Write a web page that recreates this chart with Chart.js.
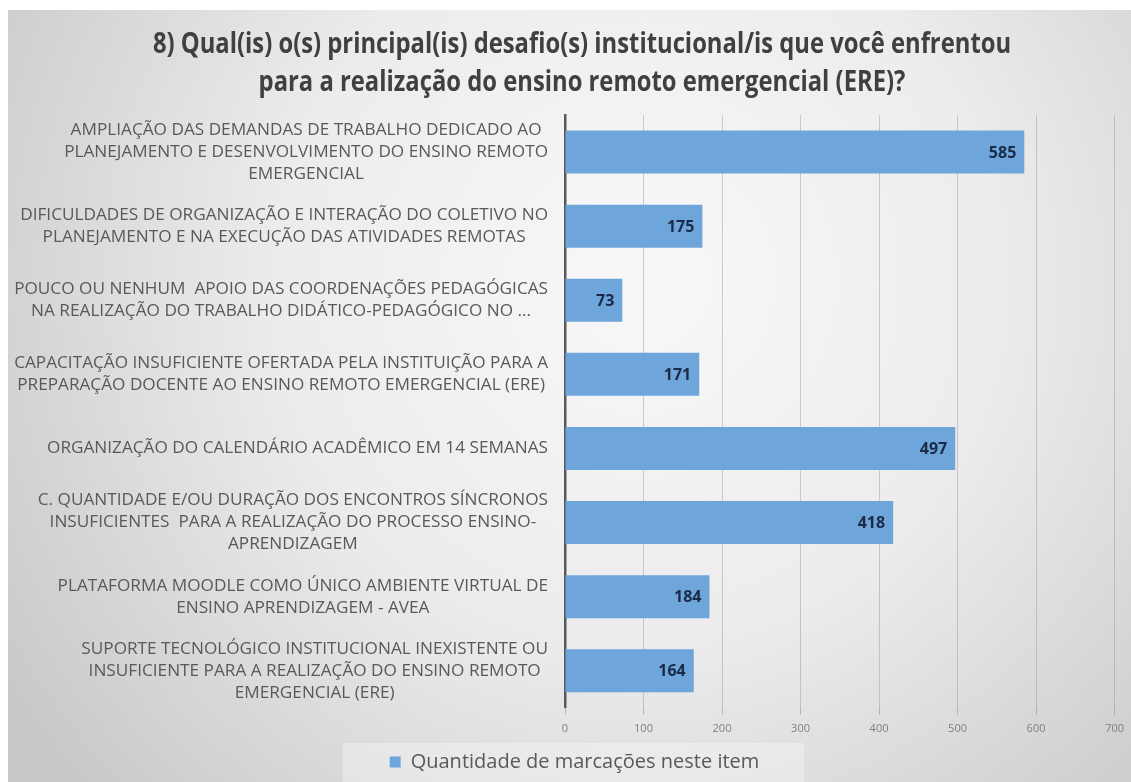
<!DOCTYPE html>
<html>
<head>
<meta charset="utf-8">
<script src="https://cdn.jsdelivr.net/npm/chart.js@4/dist/chart.umd.min.js"></script>
<style>
    html, body { margin: 0; padding: 0; background: #ffffff; }
    #wrap { width: 1131px; height: 782px; }
</style>
</head>
<body>
<div id="wrap"><canvas id="chart"></canvas></div>
<script>
const titleLines = [
    "8) Qual(is) o(s) principal(is) desafio(s) institucional/is que você enfrentou",
    "para a realização do ensino remoto emergencial (ERE)?"
];

const categories = [
    ["AMPLIAÇÃO DAS DEMANDAS DE TRABALHO DEDICADO AO", "PLANEJAMENTO E DESENVOLVIMENTO DO ENSINO REMOTO", "EMERGENCIAL"],
    ["DIFICULDADES DE ORGANIZAÇÃO E INTERAÇÃO DO COLETIVO NO", "PLANEJAMENTO E NA EXECUÇÃO DAS ATIVIDADES REMOTAS"],
    ["POUCO OU NENHUM  APOIO DAS COORDENAÇÕES PEDAGÓGICAS", "NA REALIZAÇÃO DO TRABALHO DIDÁTICO-PEDAGÓGICO NO ..."],
    ["CAPACITAÇÃO INSUFICIENTE OFERTADA PELA INSTITUIÇÃO PARA A", "PREPARAÇÃO DOCENTE AO ENSINO REMOTO EMERGENCIAL (ERE)"],
    ["ORGANIZAÇÃO DO CALENDÁRIO ACADÊMICO EM 14 SEMANAS"],
    ["C. QUANTIDADE E/OU DURAÇÃO DOS ENCONTROS SÍNCRONOS", "INSUFICIENTES  PARA A REALIZAÇÃO DO PROCESSO ENSINO-", "APRENDIZAGEM"],
    ["PLATAFORMA MOODLE COMO ÚNICO AMBIENTE VIRTUAL DE", "ENSINO APRENDIZAGEM - AVEA"],
    ["SUPORTE TECNOLÓGICO INSTITUCIONAL INEXISTENTE OU", "INSUFICIENTE PARA A REALIZAÇÃO DO ENSINO REMOTO", "EMERGENCIAL (ERE)"]
];

const seriesName = "Quantidade de marcações neste item";
const counts = [585, 175, 73, 171, 497, 418, 184, 164];

const xMin = 0;
const xMax = 700;
const xStep = 100;

const labelFont = "17.2px 'Open Sans', sans-serif";

// gray panel with a soft radial light, like the slide background
const backgroundPlugin = {
    id: "panelBackground",
    beforeDraw(chart) {
        const ctx = chart.ctx;
        const w = chart.width;
        const h = chart.height;
        ctx.save();
        ctx.fillStyle = "#ffffff";
        ctx.fillRect(0, 0, w, h);
        const g = ctx.createRadialGradient(640, 280, 40, 640, 280, 760);
        g.addColorStop(0, "#f7f7f7");
        g.addColorStop(0.45, "#ececec");
        g.addColorStop(1, "#c8c8c8");
        ctx.fillStyle = g;
        ctx.fillRect(8, 10, w - 8, h - 10);

        const legend = chart.legend;
        if (legend && legend.legendHitBoxes && legend.legendHitBoxes.length) {
            const hb = legend.legendHitBoxes[0];
            ctx.fillStyle = "rgba(255,255,255,0.32)";
            ctx.fillRect(hb.left - 47, hb.top - 9, hb.width + 92, h - hb.top + 9);
        }
        ctx.restore();
    }
};

// title in a condensed bold face (horizontally squeezed)
const titlePlugin = {
    id: "condensedTitle",
    afterDraw(chart) {
        const ctx = chart.ctx;
        const cx = 582;
        const squeeze = 0.85;
        ctx.save();
        ctx.font = "bold 28px 'Open Sans', sans-serif";
        ctx.fillStyle = "#404040";
        ctx.textAlign = "center";
        ctx.textBaseline = "middle";
        ctx.translate(cx, 0);
        ctx.scale(squeeze, 1);
        ctx.fillText(titleLines[0], 0, 45);
        ctx.fillText(titleLines[1], 0, 83);
        ctx.restore();
    }
};

// category labels: block right aligned, lines centred inside the block
const categoryLabelPlugin = {
    id: "categoryLabels",
    afterDraw(chart) {
        const scale = chart.scales.y;
        const ctx = chart.ctx;
        const right = scale.right - 17;
        const lineH = 22;
        ctx.save();
        ctx.font = labelFont;
        ctx.fillStyle = "#595959";
        ctx.textAlign = "center";
        ctx.textBaseline = "middle";
        categories.forEach((lines, i) => {
            const y = scale.getPixelForTick(i);
            const widest = Math.max(...lines.map((l) => ctx.measureText(l).width));
            const cx = right - widest / 2;
            const top = y - ((lines.length - 1) * lineH) / 2;
            lines.forEach((line, k) => {
                ctx.fillText(line, cx, top + k * lineH);
            });
        });
        ctx.restore();
    }
};

// value labels inside the end of each bar
const valueLabelPlugin = {
    id: "valueLabels",
    afterDatasetsDraw(chart) {
        const ctx = chart.ctx;
        const meta = chart.getDatasetMeta(0);
        ctx.save();
        ctx.font = "bold 16px 'Open Sans', sans-serif";
        ctx.fillStyle = "#1b2a48";
        ctx.textAlign = "right";
        ctx.textBaseline = "middle";
        meta.data.forEach((bar, i) => {
            ctx.fillText(String(counts[i]), bar.x - 8, bar.y + 1);
        });
        ctx.restore();
    }
};

function buildChart() {
    const canvas = document.getElementById("chart");
    return new Chart(canvas, {
        type: "bar",
        data: {
            labels: categories,
            datasets: [{
                label: seriesName,
                data: counts,
                backgroundColor: "#6ea5da",
                borderWidth: 0,
                barPercentage: 0.58,
                categoryPercentage: 1
            }]
        },
        options: {
            indexAxis: "y",
            responsive: true,
            maintainAspectRatio: false,
            animation: false,
            layout: { padding: { left: 32, right: 14, top: 115, bottom: 0 } },
            plugins: {
                title: { display: false },
                legend: {
                    position: "bottom",
                    labels: {
                        color: "#595959",
                        boxWidth: 11,
                        boxHeight: 11,
                        padding: 10,
                        font: { family: "'Open Sans', sans-serif", size: 20 }
                    }
                },
                tooltip: { enabled: false }
            },
            scales: {
                x: {
                    min: xMin,
                    max: xMax,
                    ticks: {
                        stepSize: xStep,
                        color: "#808080",
                        padding: 7,
                        font: { family: "'Open Sans', sans-serif", size: 11 }
                    },
                    grid: {
                        color: "rgba(150,150,150,0.45)",
                        tickColor: "rgba(150,150,150,0.6)",
                        tickLength: 7,
                        lineWidth: 1
                    },
                    border: { display: false }
                },
                y: {
                    ticks: { color: "transparent", font: { size: 14 } },
                    grid: { display: false },
                    border: { display: true, color: "#595959", width: 2.5 },
                    afterFit(scale) {
                        scale.width = 533;
                    }
                }
            }
        },
        plugins: [backgroundPlugin, valueLabelPlugin, categoryLabelPlugin, titlePlugin]
    });
}

document.addEventListener("DOMContentLoaded", () => {
    buildChart();
});
</script>
</body>
</html>
